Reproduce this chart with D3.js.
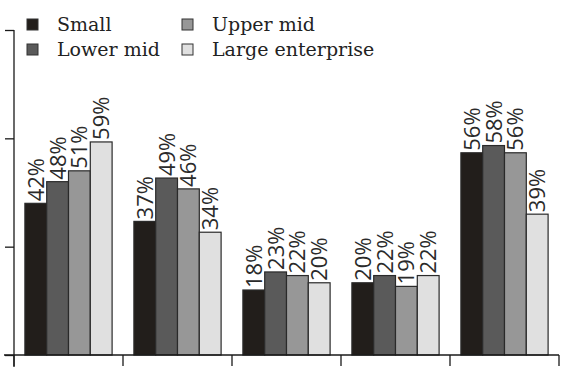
<!DOCTYPE html>
<html>
<head>
<meta charset="utf-8">
<script src="https://cdn.jsdelivr.net/npm/d3@7"></script>
<style>
  html, body { margin: 0; padding: 0; background: #fff; }
  svg { display: block; }
</style>
</head>
<body>
<script>
// ---- data ----
const categories = ["Group 1", "Group 2", "Group 3", "Group 4", "Group 5"];
const seriesNames = ["Small", "Lower mid", "Upper mid", "Large enterprise"];
const small = [42, 37, 18, 20, 56];
const lowerMid = [48, 49, 23, 22, 58];
const upperMid = [51, 46, 22, 19, 56];
const largeEnterprise = [59, 34, 20, 22, 39];
const yTicks = [0, 30, 60, 90];
const colors = ["#221e1b", "#5a5a5a", "#979797", "#e0e0e0"];

const seriesValues = [small, lowerMid, upperMid, largeEnterprise];

const W = 565, H = 378;
const svg = d3.select("body").append("svg").attr("width", W).attr("height", H);

const x0 = 14, x1 = 559, yBase = 355, yTop = 30;

const x = d3.scaleBand().domain(categories).range([x0, x1]).paddingInner(0.2).paddingOuter(0.1);
const xs = d3.scaleBand().domain(seriesNames).range([0, x.bandwidth()]).padding(0);
const y = d3.scaleLinear().domain([0, 90]).range([yBase, yTop]);

// bars
const groups = svg.append("g").selectAll("g").data(categories).join("g")
  .attr("transform", d => `translate(${x(d)},0)`);

groups.selectAll("rect")
  .data((c, i) => seriesNames.map((s, j) => ({ s, j, v: seriesValues[j][i] })))
  .join("rect")
  .attr("x", d => xs(d.s))
  .attr("y", d => y(d.v))
  .attr("width", xs.bandwidth())
  .attr("height", d => yBase - y(d.v))
  .attr("fill", d => colors[d.j])
  .attr("stroke", "#2a2a2a")
  .attr("stroke-width", 1.2);

// value labels
groups.selectAll("text")
  .data((c, i) => seriesNames.map((s, j) => ({ s, j, v: seriesValues[j][i] })))
  .join("text")
  .attr("transform", d => `translate(${xs(d.s) + xs.bandwidth() / 2 + 8},${y(d.v) - 2}) rotate(-90)`)
  .attr("text-anchor", "start")
  .attr("font-family", "'Open Sans', sans-serif")
  .attr("font-size", 22)
  .attr("fill", "#2a2a2a")
  .text(d => d.v + "%");

// axes
const axisColor = "#1a1a1a";
const axes = svg.append("g").attr("stroke", axisColor).attr("stroke-width", 1.3).attr("fill", "none");
// y axis
const yAxis = d3.axisLeft(y).tickValues(yTicks).tickSize(9).tickFormat("");
const yg = svg.append("g").attr("transform", `translate(${x0},0)`).call(yAxis);
yg.select(".domain").remove();
yg.selectAll("line").attr("stroke", axisColor).attr("stroke-width", 1.3);
axes.append("line").attr("x1", x0).attr("x2", x0).attr("y1", yTop).attr("y2", yBase + 12);
// x axis line
axes.append("line").attr("x1", 4).attr("x2", x1).attr("y1", yBase).attr("y2", yBase);
// x tick marks at band boundaries
const boundaries = categories.map(c => x(c) - x.step() * x.paddingInner() / 2).concat([x1]);
boundaries[0] = x0;
axes.selectAll("line.xt").data(boundaries).join("line")
  .attr("class", "xt")
  .attr("x1", d => d).attr("x2", d => d)
  .attr("y1", yBase).attr("y2", yBase + 11);

// legend
const legend = svg.append("g");
const legPos = [[27, 19], [27, 44], [182, 19], [182, 44]];
seriesNames.forEach((s, j) => {
  const [lx, ly] = legPos[j];
  legend.append("rect").attr("x", lx).attr("y", ly).attr("width", 11).attr("height", 11)
    .attr("fill", colors[j]).attr("stroke", "#333").attr("stroke-width", 1);
  legend.append("text").attr("x", lx + 30).attr("y", ly + 12)
    .style("font-family", "'DejaVu Serif', serif")
    .attr("font-size", 19).attr("fill", "#222").text(s);
});
</script>
</body>
</html>
